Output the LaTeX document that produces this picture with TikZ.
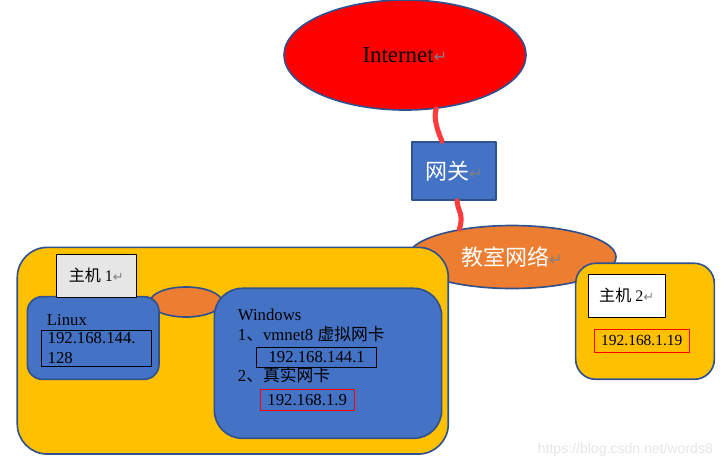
\documentclass[tikz,border=0pt]{standalone}
\usepackage{fontspec}
\setmainfont{Liberation Serif}
\newfontfamily\cjk{Noto Sans CJK SC}
\newfontfamily\symfont{DejaVu Sans}
\newfontfamily\wmfont{Liberation Sans}
\usetikzlibrary{shapes.geometric,calc}
\definecolor{edgeblue}{HTML}{2F528F}
\definecolor{boxblue}{HTML}{4472C4}
\definecolor{lanorange}{HTML}{ED7D31}
\definecolor{hostyellow}{HTML}{FFC000}
\definecolor{taggrey}{HTML}{E7E6E6}
\definecolor{wirered}{HTML}{FF3B3B}
\newcommand{\enterMark}[1]{{\symfont\fontsize{#1}{#1}\selectfont\textcolor{gray}{↵}}}
\begin{document}
\begin{tikzpicture}[x=0.03cm, y=-0.03cm, line join=round, line cap=round,
	font=\fontsize{14.3}{17}\selectfont,
	frame/.style={draw=edgeblue, line width=1.4pt},
	hostframe/.style={frame, fill=hostyellow},
	bluebox/.style={frame, fill=boxblue},
	tagbox/.style={draw=black, line width=0.6pt, font=\fontsize{13.7}{16}\selectfont},
	ipbox/.style={draw=black, line width=0.6pt, inner sep=0pt},
	redip/.style={draw=red, line width=0.8pt, inner sep=0pt},
	linetext/.style={anchor=base west, inner sep=0pt},
	wire/.style={draw=wirered, line width=4.3pt}]
	\useasboundingbox (0,0) rectangle (727,467);
	\node[frame, ellipse, fill=red, minimum width=7.26cm, minimum height=3.3cm, font=\fontsize{19.5}{22}\selectfont] (internet) at (405,55) {Internet\enterMark{14pt}};
	\node[bluebox, minimum width=2.52cm, minimum height=1.74cm, text=white, font=\cjk\fontsize{18.8}{22}\selectfont] (gw) at (454,171) {网关\enterMark{14pt}};
	\node[frame, ellipse, fill=lanorange, minimum width=6.24cm, minimum height=1.89cm, text=white, font=\cjk\fontsize{18.8}{22}\selectfont] (lan) at (512,257) {教室网络\enterMark{14pt}};
	\draw[wire] (internet.-60) .. controls (433,118) and (438,132) .. ($(gw.north)+(-12,0)$);
	\draw[wire] ($(gw.south)+(3,0)$) .. controls (458,212) and (464,214) .. (lan.152);
	\node[hostframe, rounded corners=0.9cm, minimum width=12.93cm, minimum height=6.2cm] (host1) at (232.8,350.7) {};
	\node[frame, ellipse, fill=lanorange, minimum width=2.16cm, minimum height=0.9cm] (vlink) at (186,302) {};
	\node[bluebox, rounded corners=0.45cm, minimum width=3.95cm, minimum height=2.48cm] (linux) at (93.2,338) {};
	\node[tagbox, fill=taggrey, minimum width=2.42cm, minimum height=1.29cm] (tag1) at (96.3,275.8) {{\cjk 主机} 1\enterMark{11pt}};
	\node[linetext] (linuxname) at (46.7,325) {Linux};
	\node[ipbox, inner xsep=0.19cm, text width=2.93cm, align=left, minimum height=1.1cm] (linuxip) at (96.5,348.3) {192.168.144.\\128};
	\node[bluebox, rounded corners=0.84cm, minimum width=6.82cm, minimum height=4.5cm] (win) at (328,363.3) {};
	\node[linetext] (winname) at (237.7,320) {Windows};
	\node[linetext] (vmnic) at (237.7,340.7) {1{\cjk 、}vmnet8 {\cjk 虚拟网卡}};
	\node[ipbox, minimum width=3.6cm, minimum height=0.6cm] (vmip) at (316.7,357.3) {192.168.144.1};
	\node[linetext] (realnic) at (237.7,381.7) {2{\cjk 、真实网卡}};
	\node[redip, minimum width=2.83cm, minimum height=0.65cm] (realip) at (307.2,399.8) {192.168.1.9};
	\node[hostframe, rounded corners=0.6cm, minimum width=4.16cm, minimum height=3.48cm] (host2) at (645,321.3) {};
	\node[tagbox, fill=white, minimum width=2.3cm, minimum height=1.31cm] (tag2) at (626.7,295.8) {{\cjk 主机} 2\enterMark{11pt}};
	\node[redip, minimum width=2.85cm, minimum height=0.7cm, font=\fontsize{13.2}{16}\selectfont] (host2ip) at (641.8,340.7) {192.168.1.19};
	\node[anchor=base east, text=black!10, font=\wmfont\fontsize{12}{14}\selectfont] (mark) at (717,453) {https://blog.csdn.net/words8};
\end{tikzpicture}
\end{document}
